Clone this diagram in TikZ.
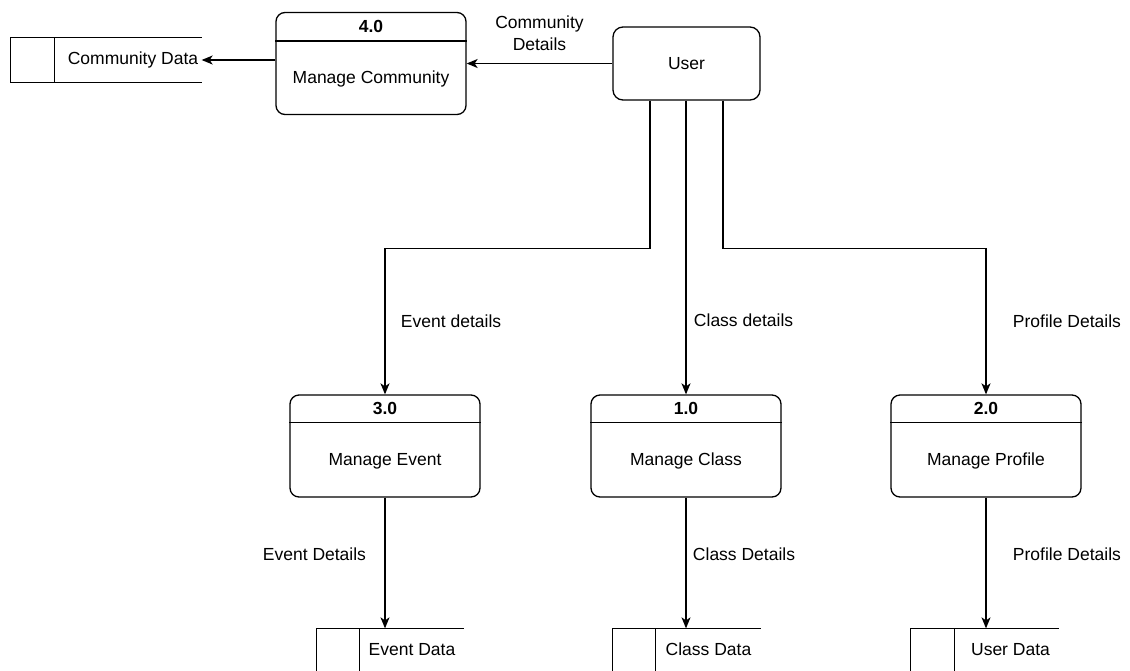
\documentclass[tikz,border=0pt]{standalone}
\usepackage{fontspec}
\setmainfont{Liberation Sans}
\usetikzlibrary{calc, arrows.meta}

\tikzset{
    process/.style={draw, rounded corners=9pt, minimum width=190pt, minimum height=102pt},
    entity/.style={draw, rounded corners=10pt, minimum width=147pt, minimum height=73pt},
    store/.style={minimum width=#1, minimum height=44pt, inner sep=0pt},
    pnum/.style={font=\fontsize{17.5}{22}\selectfont\bfseries},
    flow/.style={->},
}

\begin{document}
\begin{tikzpicture}[x=1pt, y=-1pt, font=\fontsize{17.5}{22}\selectfont, line width=1.3pt,
        >={Stealth[length=11pt, width=9pt, inset=3pt]}]
        \useasboundingbox (0,0) rectangle (1130,670);

        \node (user) [entity] at (686.5, 63.5) {User};

        \node (p4) [process] at (371, 63.5) {};
        \node (t4) [pnum] at ($(p4.north) + (0, 15)$) {4.0};
        \draw ($(p4.north west) + (0, 29)$) -- ($(p4.north east) + (0, 29)$);
        \node (n4) at ($(p4.center) + (0, 15)$) {Manage Community};

        \node (p3) [process] at (385, 446) {};
        \node (t3) [pnum] at ($(p3.north) + (0, 14)$) {3.0};
        \draw ($(p3.north west) + (0, 28)$) -- ($(p3.north east) + (0, 28)$);
        \node (n3) at ($(p3.center) + (0, 15)$) {Manage Event};

        \node (p1) [process] at (686, 446) {};
        \node (t1) [pnum] at ($(p1.north) + (0, 14)$) {1.0};
        \draw ($(p1.north west) + (0, 28)$) -- ($(p1.north east) + (0, 28)$);
        \node (n1) at ($(p1.center) + (0, 15)$) {Manage Class};

        \node (p2) [process] at (986, 446) {};
        \node (t2) [pnum] at ($(p2.north) + (0, 14)$) {2.0};
        \draw ($(p2.north west) + (0, 28)$) -- ($(p2.north east) + (0, 28)$);
        \node (n2) at ($(p2.center) + (0, 15)$) {Manage Profile};

        % data stores
        \node (cdata) [store=190pt] at (106, 60) {};
        \draw (cdata.north east) -- (cdata.north west) -- (cdata.south west) -- (cdata.south east);
        \draw ($(cdata.north west) + (44, 0)$) -- ($(cdata.south west) + (44, 0)$);
        \node at ($(cdata.center) + (27, 0)$) {Community Data};

        \node (edata) [store=146pt, minimum height=41pt] at (390, 649.5) {};
        \draw (edata.north east) -- (edata.north west) -- (edata.south west);
        \draw ($(edata.north west) + (43, 0)$) -- ($(edata.south west) + (43, 0)$);
        \node at ($(edata.center) + (22, 0)$) {Event Data};

        \node (kdata) [store=147pt, minimum height=41pt] at (686.5, 649.5) {};
        \draw (kdata.north east) -- (kdata.north west) -- (kdata.south west);
        \draw ($(kdata.north west) + (43, 0)$) -- ($(kdata.south west) + (43, 0)$);
        \node at ($(kdata.center) + (22, 0)$) {Class Data};

        \node (udata) [store=147pt, minimum height=41pt] at (984.5, 649.5) {};
        \draw (udata.north east) -- (udata.north west) -- (udata.south west);
        \draw ($(udata.north west) + (44, 0)$) -- ($(udata.south west) + (44, 0)$);
        \node at ($(udata.center) + (26, 0)$) {User Data};

        % flows
        \draw [flow] (user.west) -- node [above=9pt, align=center] {Community\\Details} (p4.east);
        \draw [flow] (p4.west |- cdata.east) -- (cdata.east);

        \draw [flow] ($(user.south) + (-36.5, 0)$) -- ++(0, 148) -| node [pos=0.75, right=12pt] {Event details} (p3.north);
        \draw [flow] (user.south -| p1.north) -- node [pos=0.747, right=4pt] {Class details} (p1.north);
        \draw [flow] ($(user.south) + (36.5, 0)$) -- ++(0, 148) -| node [pos=0.75, right=23pt] {Profile Details} (p2.north);

        \draw [flow] (p3.south) -- node [pos=0.43, left=15pt] {Event Details} (p3.south |- edata.north);
        \draw [flow] (p1.south) -- node [pos=0.43, right=3pt] {Class Details} (p1.south |- kdata.north);
        \draw [flow] (p2.south) -- node [pos=0.43, right=23pt] {Profile Details} (p2.south |- udata.north);
    \end{tikzpicture}
\end{document}
